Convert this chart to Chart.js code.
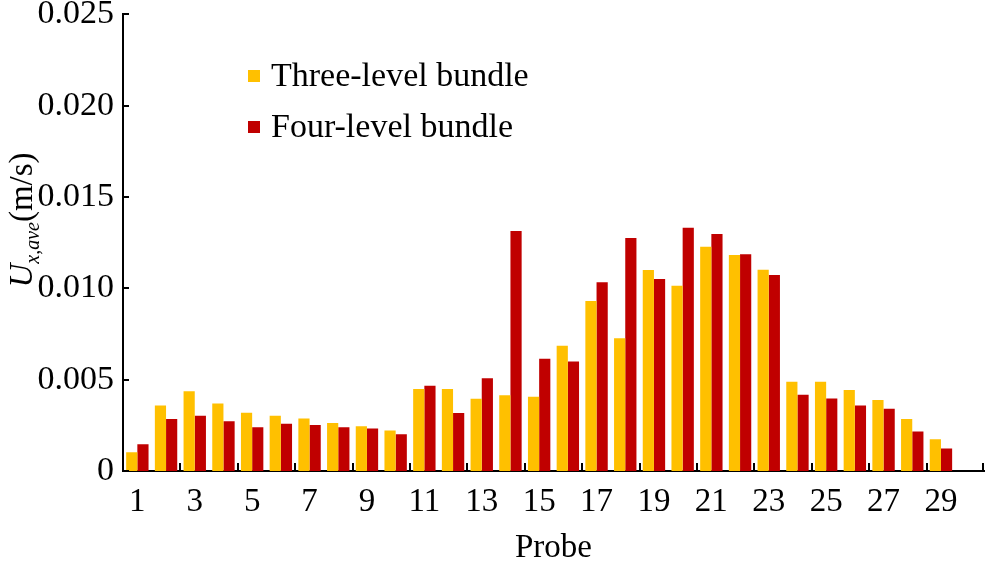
<!DOCTYPE html>
<html>
<head>
<meta charset="utf-8">
<script src="https://cdn.jsdelivr.net/npm/chart.js@4/dist/chart.umd.min.js"></script>
<style>
    html, body { margin: 0; padding: 0; background: #fff; }
    #wrap { width: 986px; height: 562px; }
</style>
</head>
<body>
<div id="wrap"><canvas id="chart"></canvas></div>
<script>
const probes = ['1', '2', '3', '4', '5', '6', '7', '8', '9', '10', '11', '12', '13', '14', '15',
    '16', '17', '18', '19', '20', '21', '22', '23', '24', '25', '26', '27', '28', '29', '30'];
const probeLabels = ['1', '', '3', '', '5', '', '7', '', '9', '', '11', '', '13', '', '15',
    '', '17', '', '19', '', '21', '', '23', '', '25', '', '27', '', '29', ''];
const threeLevel = [0.00102, 0.00359, 0.00436, 0.0037, 0.00319, 0.00303, 0.00287, 0.00263, 0.00245, 0.00221,
    0.00449, 0.00449, 0.00396, 0.00414, 0.00407, 0.00685, 0.00931, 0.00727, 0.0110, 0.01014,
    0.01227, 0.01182, 0.01101, 0.00489, 0.00489, 0.00443, 0.00389, 0.00285, 0.00174, null];
const fourLevel = [0.00146, 0.00285, 0.00303, 0.00272, 0.00239, 0.00258, 0.00252, 0.00239, 0.00232, 0.00201,
    0.00466, 0.00318, 0.00507, 0.01313, 0.00614, 0.0060, 0.01033, 0.01275, 0.01051, 0.01331,
    0.01297, 0.01186, 0.01073, 0.00418, 0.00397, 0.00358, 0.00341, 0.00216, 0.00123, null];
const yTickLabels = ['0', '0.005', '0.010', '0.015', '0.020', '0.025'];

const FONT = '"Liberation Serif", "Times New Roman", serif';

// inward tick marks on both axes
const innerTicks = {
    id: 'innerTicks',
    afterDraw(chart) {
        const {ctx, chartArea: {left, right, bottom}, scales: {x, y}} = chart;
        ctx.save();
        ctx.strokeStyle = '#000';
        ctx.lineWidth = 2;
        ctx.beginPath();
        y.ticks.forEach(t => {
            const py = Math.round(y.getPixelForValue(t.value));
            ctx.moveTo(left, py);
            ctx.lineTo(left + 6, py);
        });
        for (let i = 1; i < probes.length; i += 2) {
            let px;
            if (i + 1 < probes.length) px = (x.getPixelForValue(i) + x.getPixelForValue(i + 1)) / 2;
            else px = right - 1;
            px = Math.round(px);
            ctx.moveTo(px, bottom);
            ctx.lineTo(px, bottom - 8);
        }
        ctx.stroke();
        ctx.restore();
    }
};

// legend drawn inside the plot, top-left
const innerLegend = {
    id: 'innerLegend',
    afterDraw(chart) {
        const {ctx} = chart;
        ctx.save();
        ctx.font = '34px ' + FONT;
        ctx.textBaseline = 'middle';
        ctx.textAlign = 'left';
        chart.data.datasets.forEach((ds, i) => {
            const yy = 76 + i * 51;
            ctx.fillStyle = ds.backgroundColor;
            ctx.fillRect(248, yy - 6, 12, 12);
            ctx.fillStyle = '#000';
            ctx.fillText(ds.label, 271, yy + 1);
        });
        ctx.restore();
    }
};

// y title with italic U and subscript
const yTitle = {
    id: 'yTitle',
    afterDraw(chart) {
        const {ctx} = chart;
        ctx.save();
        ctx.translate(32, 220);
        ctx.rotate(-Math.PI / 2);
        ctx.fillStyle = '#000';
        ctx.textBaseline = 'alphabetic';
        const parts = [
            {t: 'U', f: 'italic 33px ' + FONT, dy: 0},
            {t: 'x,ave', f: 'italic 20px ' + FONT, dy: 7},
            {t: '(m/s)', f: '33px ' + FONT, dy: 0}
        ];
        let total = 0;
        parts.forEach(p => { ctx.font = p.f; total += ctx.measureText(p.t).width; });
        let cx = -total / 2;
        parts.forEach(p => {
            ctx.font = p.f;
            ctx.fillText(p.t, cx, p.dy);
            cx += ctx.measureText(p.t).width;
        });
        ctx.restore();
    }
};

new Chart(document.getElementById('chart'), {
    type: 'bar',
    data: {
        labels: probes,
        datasets: [
            {label: 'Three-level bundle', data: threeLevel, backgroundColor: '#FFC000'},
            {label: 'Four-level bundle', data: fourLevel, backgroundColor: '#C00000'}
        ]
    },
    options: {
        responsive: true,
        maintainAspectRatio: false,
        animation: false,
        layout: {padding: {top: 0, right: 2, left: 0, bottom: 0}},
        datasets: {bar: {categoryPercentage: 0.78, barPercentage: 1.0}},
        plugins: {legend: {display: false}, tooltip: {enabled: false}},
        scales: {
            x: {
                grid: {display: false},
                border: {display: true, color: '#000', width: 2},
                ticks: {
                    autoSkip: false,
                    maxRotation: 0,
                    color: '#000',
                    padding: 4,
                    font: {family: FONT, size: 33},
                    callback: (v, i) => probeLabels[i]
                },
                title: {
                    display: true,
                    text: 'Probe',
                    color: '#000',
                    font: {family: FONT, size: 33, lineHeight: 0.8},
                    padding: {top: 0, bottom: 0}
                },
                afterFit(scale) { scale.height = 91; }
            },
            y: {
                min: 0,
                max: 0.025,
                grid: {display: false},
                border: {display: true, color: '#000', width: 2},
                ticks: {
                    stepSize: 0.005,
                    color: '#000',
                    padding: 1,
                    font: {family: FONT, size: 34, lineHeight: 0.78},
                    callback: (v, i) => yTickLabels[i]
                },
                afterFit(scale) { scale.width = 123; }
            }
        }
    },
    plugins: [innerTicks, innerLegend, yTitle]
});
</script>
</body>
</html>
